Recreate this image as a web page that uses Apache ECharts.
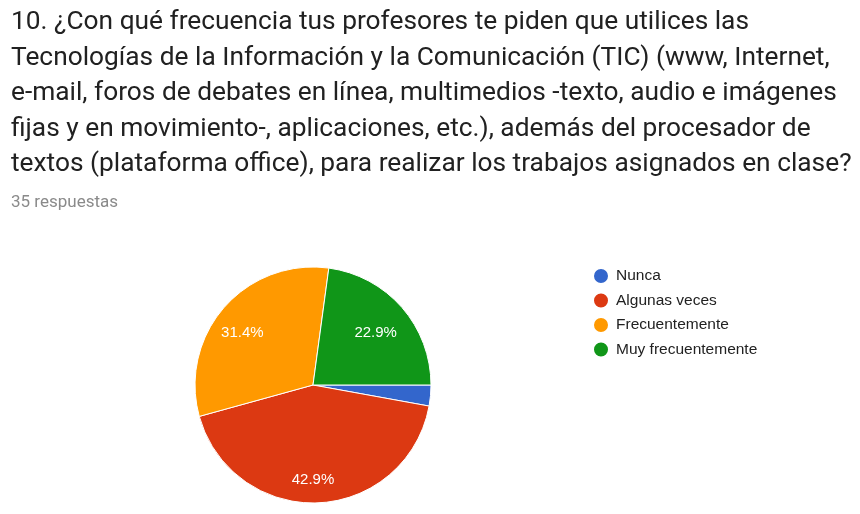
<!DOCTYPE html>
<html>
<head>
<meta charset="utf-8">
<title>Frecuencia TIC</title>
<script src="https://cdn.jsdelivr.net/npm/echarts@6/dist/echarts.min.js"></script>
<style>
  html, body { margin: 0; padding: 0; background: #fff; }
  #chart { width: 860px; height: 514px; }
</style>
</head>
<body>
<div id="chart"></div>
<script>
// datos de la pregunta 10 (35 respuestas)
var categorias = ['Nunca', 'Algunas veces', 'Frecuentemente', 'Muy frecuentemente'];
var respuestas = [1, 15, 11, 8];
var colores = ['#3366cc', '#dc3912', '#ff9900', '#109618'];

var pregunta = '10. ¿Con qué frecuencia tus profesores te piden que utilices las\n' +
  'Tecnologías de la Información y la Comunicación (TIC) (www, Internet,\n' +
  'e-mail, foros de debates en línea, multimedios -texto, audio e imágenes\n' +
  'fijas y en movimiento-, aplicaciones, etc.), además del procesador de\n' +
  'textos (plataforma office), para realizar los trabajos asignados en clase?';
var total = respuestas.reduce(function (a, b) { return a + b; }, 0);

var datos = categorias.map(function (c, i) {
  return { name: c, value: respuestas[i], itemStyle: { color: colores[i] } };
});

var myChart = echarts.init(document.getElementById('chart'));
myChart.setOption({
  animation: false,
  title: [
    {
      text: pregunta,
      left: 6, top: 0,
      textStyle: { fontFamily: 'Roboto', fontSize: 26.3, fontWeight: 'normal', lineHeight: 35.5, color: '#212121' }
    },
    {
      text: total + ' respuestas',
      left: 6, top: 189,
      textStyle: { fontFamily: 'Roboto', fontSize: 17, fontWeight: 'normal', color: '#8a8a8a' }
    }
  ],
  legend: {
    orient: 'vertical',
    left: 587, top: 262,
    icon: 'circle',
    itemWidth: 16, itemHeight: 16, itemGap: 6.5,
    data: categorias,
    textStyle: { fontFamily: 'Liberation Sans', fontSize: 15.5, color: '#222', padding: [0, 0, 0, 2] }
  },
  series: [
    {
      type: 'pie',
      center: [313, 385],
      radius: 118,
      startAngle: 0,
      clockwise: true,
      label: { show: false },
      labelLine: { show: false },
      itemStyle: { borderColor: '#fff', borderWidth: 1 },
      emphasis: { disabled: true },
      data: datos
    },
    {
      // capa transparente solo para colocar las etiquetas
      type: 'pie',
      center: [309, 391],
      radius: [53, 118],
      startAngle: 0,
      clockwise: true,
      silent: true,
      itemStyle: { color: 'transparent' },
      label: {
        position: 'inner',
        fontFamily: 'Liberation Sans', fontSize: 15, color: '#fff',
        formatter: function (p) { return p.percent < 5 ? '' : p.percent.toFixed(1) + '%'; }
      },
      labelLine: { show: false },
      data: categorias.map(function (c, i) { return { name: c, value: respuestas[i] }; })
    }
  ]
});
</script>
</body>
</html>
